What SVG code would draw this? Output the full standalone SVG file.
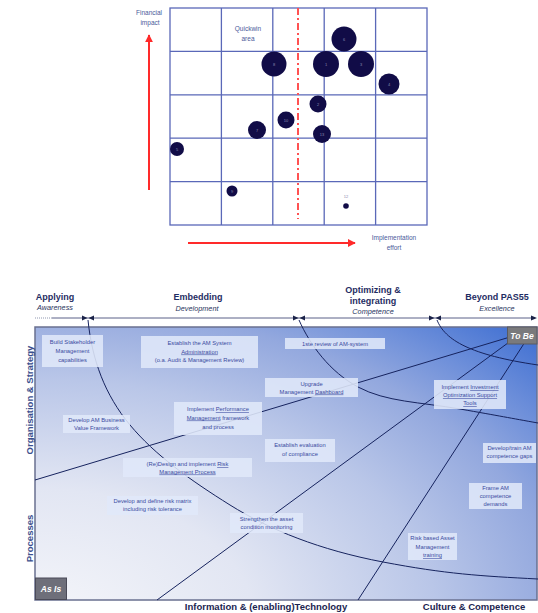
<svg xmlns="http://www.w3.org/2000/svg" width="538" height="613" viewBox="0 0 538 613">
<style>
.grid{fill:none;stroke:#5a68b8;stroke-width:1.3}
.bub{fill:#110c47}
.bl{font-family:"Liberation Sans",Arial,sans-serif;font-size:4px;fill:#8a8ab0;text-anchor:middle}
.ct{font-family:"Liberation Sans",Arial,sans-serif;font-size:6.5px;fill:#4a5a9a;text-anchor:middle}
.hd{font-family:"Liberation Sans",Arial,sans-serif;font-size:9px;font-weight:bold;fill:#1f2d63;text-anchor:middle}
.sub{font-family:"Liberation Sans",Arial,sans-serif;font-size:7.3px;font-style:italic;fill:#2a3560;text-anchor:middle}
.ax{font-family:"Liberation Sans",Arial,sans-serif;font-size:9.5px;font-weight:bold;text-anchor:middle}
.box{fill:#e0e8f9;fill-opacity:0.88}
.bt{font-family:"Liberation Sans",Arial,sans-serif;font-size:5.8px;fill:#3a4aa0;text-anchor:middle}
.u{text-decoration:underline}
.con{fill:none;stroke:#16235e;stroke-width:1}
.mk{fill:#1a2248}
.tag{font-family:"Liberation Sans",Arial,sans-serif;font-size:8.5px;font-weight:bold;font-style:italic;fill:#ffffff;text-anchor:middle}
</style>
<defs>
<radialGradient id="bg" gradientUnits="userSpaceOnUse" cx="35" cy="620" r="730" gradientTransform="translate(35 620) scale(1 0.6) translate(-35 -620)">
<stop offset="0" stop-color="#f5f6fa"/>
<stop offset="0.3" stop-color="#e2e6f3"/>
<stop offset="0.55" stop-color="#b9c6e8"/>
<stop offset="0.72" stop-color="#93a8de"/>
<stop offset="0.82" stop-color="#6f90da"/>
<stop offset="1" stop-color="#2c62cf"/>
</radialGradient>
<marker id="ra" viewBox="0 0 10 10" refX="9" refY="5" markerWidth="4" markerHeight="4" orient="auto"><path d="M0,0 L10,5 L0,10 Z" fill="#ff2a2a"/></marker>
</defs>
<rect width="538" height="613" fill="#ffffff"/>

<!-- Top chart -->
<g id="chart">
<rect class="grid" x="170" y="8" width="257" height="217"/>
<path class="grid" d="M221.4,8V225M272.8,8V225M324.2,8V225M375.6,8V225M170,51.4H427M170,94.8H427M170,138.2H427M170,181.6H427"/>
<line x1="298" y1="8" x2="298" y2="219" stroke="#ff5252" stroke-width="2" stroke-dasharray="7 3 2 3"/>
<line x1="149" y1="190" x2="149" y2="35" stroke="#ff2a2a" stroke-width="2" marker-end="url(#ra)"/>
<line x1="188" y1="243" x2="355" y2="243" stroke="#ff2a2a" stroke-width="2" marker-end="url(#ra)"/>
<text class="ct" x="149" y="15">Financial</text>
<text class="ct" x="150" y="25">impact</text>
<text class="ct" x="248" y="31">Quickwin</text>
<text class="ct" x="248" y="41">area</text>
<text class="ct" x="394" y="240">Implementation</text>
<text class="ct" x="394" y="250">effort</text>
</g>
<g id="bubbles">
<g id="b6"><circle class="bub" cx="344" cy="39" r="12.5"/><text class="bl" x="344" y="40.5">6</text></g>
<g id="b8"><circle class="bub" cx="274" cy="64" r="12.5"/><text class="bl" x="274" y="65.5">8</text></g>
<g id="b1"><circle class="bub" cx="326" cy="64" r="13"/><text class="bl" x="326" y="65.5">1</text></g>
<g id="b3"><circle class="bub" cx="361" cy="64" r="13"/><text class="bl" x="361" y="65.5">3</text></g>
<g id="b4"><circle class="bub" cx="389" cy="84" r="10.5"/><text class="bl" x="389" y="85.5">4</text></g>
<g id="b2"><circle class="bub" cx="318" cy="104" r="8.5"/><text class="bl" x="318" y="105.5">2</text></g>
<g id="b10"><circle class="bub" cx="286" cy="120" r="8.5"/><text class="bl" x="286" y="121.5">10</text></g>
<g id="b7"><circle class="bub" cx="257" cy="130" r="9"/><text class="bl" x="257" y="131.5">7</text></g>
<g id="b13"><circle class="bub" cx="322" cy="134" r="9"/><text class="bl" x="322" y="135.5">13</text></g>
<g id="b5"><circle class="bub" cx="177" cy="149" r="7"/><text class="bl" x="177" y="150.5">5</text></g>
<g id="b9"><circle class="bub" cx="232" cy="191" r="5.5"/><text class="bl" x="232" y="192.5">9</text></g>
<g id="b12"><circle class="bub" cx="346" cy="206" r="2.8"/><text class="bl" x="346" y="198">12</text></g>
</g>

<!-- Headers -->
<g id="headers">
<text class="hd" x="55" y="300">Applying</text>
<text class="sub" x="55" y="310">Awareness</text>
<text class="hd" x="198" y="300">Embedding</text>
<text class="sub" x="197" y="311">Development</text>
<text class="hd" x="373" y="293">Optimizing &amp;</text>
<text class="hd" x="373" y="304">integrating</text>
<text class="sub" x="373" y="314">Competence</text>
<text class="hd" x="497" y="300">Beyond PAS55</text>
<text class="sub" x="497" y="311">Excellence</text>
</g>
<g id="timeline">
<line x1="35" y1="318" x2="52" y2="318" stroke="#9098b0" stroke-width="1" stroke-dasharray="1 1"/>
<line x1="52" y1="318" x2="535" y2="318" stroke="#5a6088" stroke-width="1"/>
<path class="mk" d="M82,315.5L87.5,318L82,320.5ZM94,315.5L88.5,318L94,320.5ZM293,315.5L298.5,318L293,320.5ZM305,315.5L299.5,318L305,320.5ZM429,315.5L434.5,318L429,320.5ZM441,315.5L435.5,318L441,320.5ZM531,315.5L537,318L531,320.5Z"/>
</g>

<!-- Main field -->
<rect x="35" y="327" width="502" height="273" fill="url(#bg)" stroke="#6a7090" stroke-width="1.5"/>

<g id="connectors">
<path class="con" d="M88,320 C92,360 105,395 130,425 S190,480 230,505 S320,550 383,562 S480,576 538,579"/>
<path class="con" d="M299,320 C310,345 330,372 358,387 S420,402 460,409 S510,418 538,423"/>
<path class="con" d="M437,320 C445,340 470,355 538,365"/>
<path class="con" d="M510,337 L35,480"/>
<path class="con" d="M512,340 L157,600"/>
<path class="con" d="M525,342 L358,600"/>
</g>

<g id="n1"><rect class="box" x="42" y="335" width="61" height="32"/>
<text class="bt" x="72.5" y="343.5">Build Stakeholder</text><text class="bt" x="72.5" y="352.5">Management</text><text class="bt" x="72.5" y="361.5">capabilities</text></g>
<g id="n2"><rect class="box" x="141" y="336" width="117" height="32"/>
<text class="bt" x="199.5" y="344.5">Establish the AM System</text><text class="bt" x="199.5" y="353.5"><tspan class="u">Administration</tspan></text><text class="bt" x="199.5" y="362">(o.a. Audit &amp; Management Review)</text></g>
<g id="n3"><rect class="box" x="285" y="338" width="100" height="11"/>
<text class="bt" x="335" y="345.5">1ste review of AM-system</text></g>
<g id="n4"><rect class="box" x="265" y="378" width="93" height="19"/>
<text class="bt" x="311.5" y="386">Upgrade</text><text class="bt" x="311.5" y="393.5">Management <tspan class="u">Dashboard</tspan></text></g>
<g id="n5"><rect class="box" x="434" y="380" width="72" height="29"/>
<text class="bt" x="470" y="389">Implement <tspan class="u">Investment</tspan></text><text class="bt" x="470" y="397"><tspan class="u">Optimization Support</tspan></text><text class="bt" x="470" y="405"><tspan class="u">Tools</tspan></text></g>
<g id="n6"><rect class="box" x="174" y="402" width="88" height="33"/>
<text class="bt" x="218" y="411">Implement <tspan class="u">Performance</tspan></text><text class="bt" x="218" y="419.5"><tspan class="u">Management</tspan> framework</text><text class="bt" x="218" y="428.5">and process</text></g>
<g id="n7"><rect class="box" x="63" y="415" width="67" height="18"/>
<text class="bt" x="96.5" y="422">Develop AM Business</text><text class="bt" x="96.5" y="429.5">Value Framework</text></g>
<g id="n8"><rect class="box" x="265" y="439" width="70" height="23"/>
<text class="bt" x="300" y="447">Establish evaluation</text><text class="bt" x="300" y="456">of compliance</text></g>
<g id="n9"><rect class="box" x="483" y="443" width="53" height="20"/>
<text class="bt" x="509.5" y="449.5">Develop/train AM</text><text class="bt" x="509.5" y="457.5">competence gaps</text></g>
<g id="n10"><rect class="box" x="123" y="458" width="129" height="19"/>
<text class="bt" x="187.5" y="466">(Re)Design and implement <tspan class="u">Risk</tspan></text><text class="bt" x="187.5" y="473.5"><tspan class="u">Management Process</tspan></text></g>
<g id="n11"><rect class="box" x="469" y="483" width="53" height="26"/>
<text class="bt" x="495.5" y="490">Frame AM</text><text class="bt" x="495.5" y="497.5">competence</text><text class="bt" x="495.5" y="505.5">demands</text></g>
<g id="n12"><rect class="box" x="107" y="496" width="91" height="19"/>
<text class="bt" x="152.5" y="503">Develop and define risk matrix</text><text class="bt" x="152.5" y="510.5">including risk tolerance</text></g>
<g id="n13"><rect class="box" x="230" y="513" width="73" height="20"/>
<text class="bt" x="266.5" y="521">Strengthen the asset</text><text class="bt" x="266.5" y="528.5">condition monitoring</text></g>
<g id="n14"><rect class="box" x="408" y="533" width="49" height="27"/>
<text class="bt" x="432.5" y="539.5">Risk based Asset</text><text class="bt" x="432.5" y="548.5">Management</text><text class="bt" x="432.5" y="557"><tspan class="u">training</tspan></text></g>

<g id="tobe"><rect x="507.5" y="327" width="29.5" height="17" fill="#7a7a7c" stroke="#5a5a60" stroke-width="1"/><text class="tag" x="522" y="338.5">To Be</text></g>
<g id="asis"><rect x="35.5" y="578" width="31" height="21.5" fill="#6e6f7a" stroke="#4a4a58" stroke-width="1"/><text class="tag" x="51" y="592">As Is</text></g>

<g id="axes">
<text class="ax" fill="#3b4f8e" transform="translate(33,400) rotate(-90)">Organisation &amp; Strategy</text>
<text class="ax" fill="#3b4f8e" transform="translate(33,538.5) rotate(-90)">Processes</text>
<text class="ax" fill="#1b2550" x="266" y="609.5">Information &amp; (enabling)Technology</text>
<text class="ax" fill="#1b2550" x="474" y="609.5">Culture &amp; Competence</text>
</g>
</svg>
